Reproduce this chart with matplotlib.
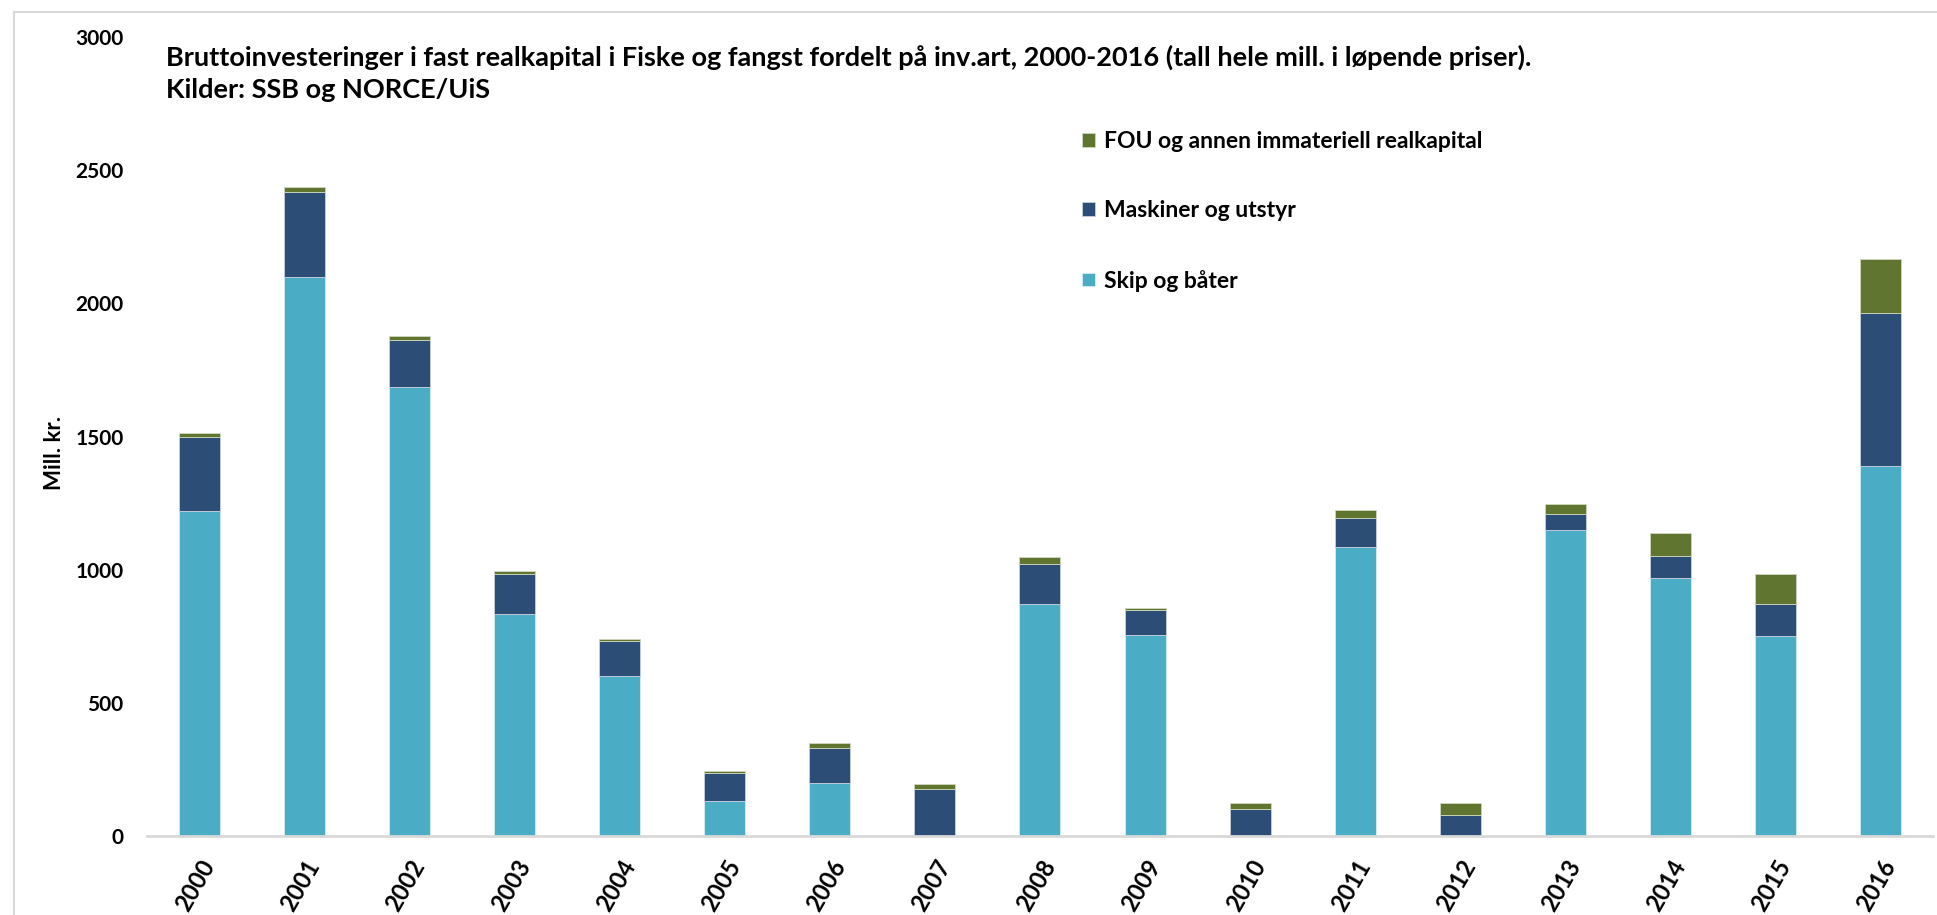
import matplotlib
matplotlib.use("Agg")
import matplotlib.pyplot as plt
from matplotlib.lines import Line2D
import numpy as np

years = [str(y) for y in range(2000, 2017)]
skip = [1220, 2097, 1686, 833, 602, 130, 198, 0, 870, 755, 0, 1087, 0, 1149, 970, 750, 1391]
maskiner = [279, 320, 178, 151, 129, 106, 131, 178, 153, 92, 100, 108, 78, 59, 82, 123, 571]
fou = [13, 18, 14, 12, 10, 9, 19, 18, 23, 10, 23, 29, 46, 40, 86, 110, 203]

labels = ["Skip og båter", "Maskiner og utstyr", "FOU og annen immateriell realkapital"]
colors = ["#4bacc6", "#2c4d75", "#5f7530"]

fig = plt.figure(figsize=(19.37, 9.15), dpi=100)
ax = fig.add_axes([0.0759, 0.0863, 0.922, 0.8733])

x = np.arange(len(years))
w = 0.39
b1 = ax.bar(x, skip, w, color=colors[0], edgecolor="#d8eef4", linewidth=0.6, label=labels[0])
b2 = ax.bar(x, maskiner, w, bottom=skip, color=colors[1], edgecolor="#c8d0dc", linewidth=0.6, label=labels[1])
bottom2 = np.array(skip) + np.array(maskiner)
b3 = ax.bar(x, fou, w, bottom=bottom2, color=colors[2], edgecolor="#d0d8c0", linewidth=0.6, label=labels[2])

ax.set_xlim(-0.5, len(years) - 0.5)
ax.set_ylim(0, 3000)
ax.set_yticks(range(0, 3001, 500))
ax.set_yticklabels([str(v) for v in range(0, 3001, 500)],
                   fontdict={"family": "Lato", "weight": "bold", "size": 15})
ax.set_xticks(x)
ax.set_xticklabels(years, rotation=60, ha="right", rotation_mode="anchor",
                   fontdict={"family": "Lato", "weight": "bold", "size": 17})
ax.tick_params(axis="both", length=0)
ax.tick_params(axis="y", pad=17)
ax.tick_params(axis="x", pad=14)

for s in ["top", "right", "left"]:
    ax.spines[s].set_visible(False)
ax.spines["bottom"].set_color("#d9d9d9")
ax.spines["bottom"].set_linewidth(2)

ax.set_ylabel("Mill. kr.", fontsize=16, fontweight="bold", family="Lato")
ax.yaxis.set_label_coords(-0.046, 0.48)

fig.text(0.0857, 0.937, "Bruttoinvesteringer i fast realkapital i Fiske og fangst fordelt på inv.art, "
         "2000-2016 (tall hele mill. i løpende priser).",
         fontsize=19.5, fontweight="bold", family="Lato", va="center", ha="left")
fig.text(0.0857, 0.902, "Kilder: SSB og NORCE/UiS",
         fontsize=19.5, fontweight="bold", family="Lato", va="center", ha="left")

handles = [b3, b2, b1]
leg = fig.legend(handles, [labels[2], labels[1], labels[0]],
                 loc="upper left", bbox_to_anchor=(0.548, 0.879), frameon=False,
                 prop={"family": "Lato", "weight": "bold", "size": 16.5},
                 handlelength=0.55, handleheight=0.55, handletextpad=0.4, labelspacing=2.1)

fig.add_artist(Line2D([0.0072, 0.0072], [0.0, 0.987], transform=fig.transFigure, color="#d9d9d9", lw=1.5))
fig.add_artist(Line2D([0.0072, 1.0], [0.987, 0.987], transform=fig.transFigure, color="#d9d9d9", lw=1.5))

fig.savefig("out.png", dpi=100)
